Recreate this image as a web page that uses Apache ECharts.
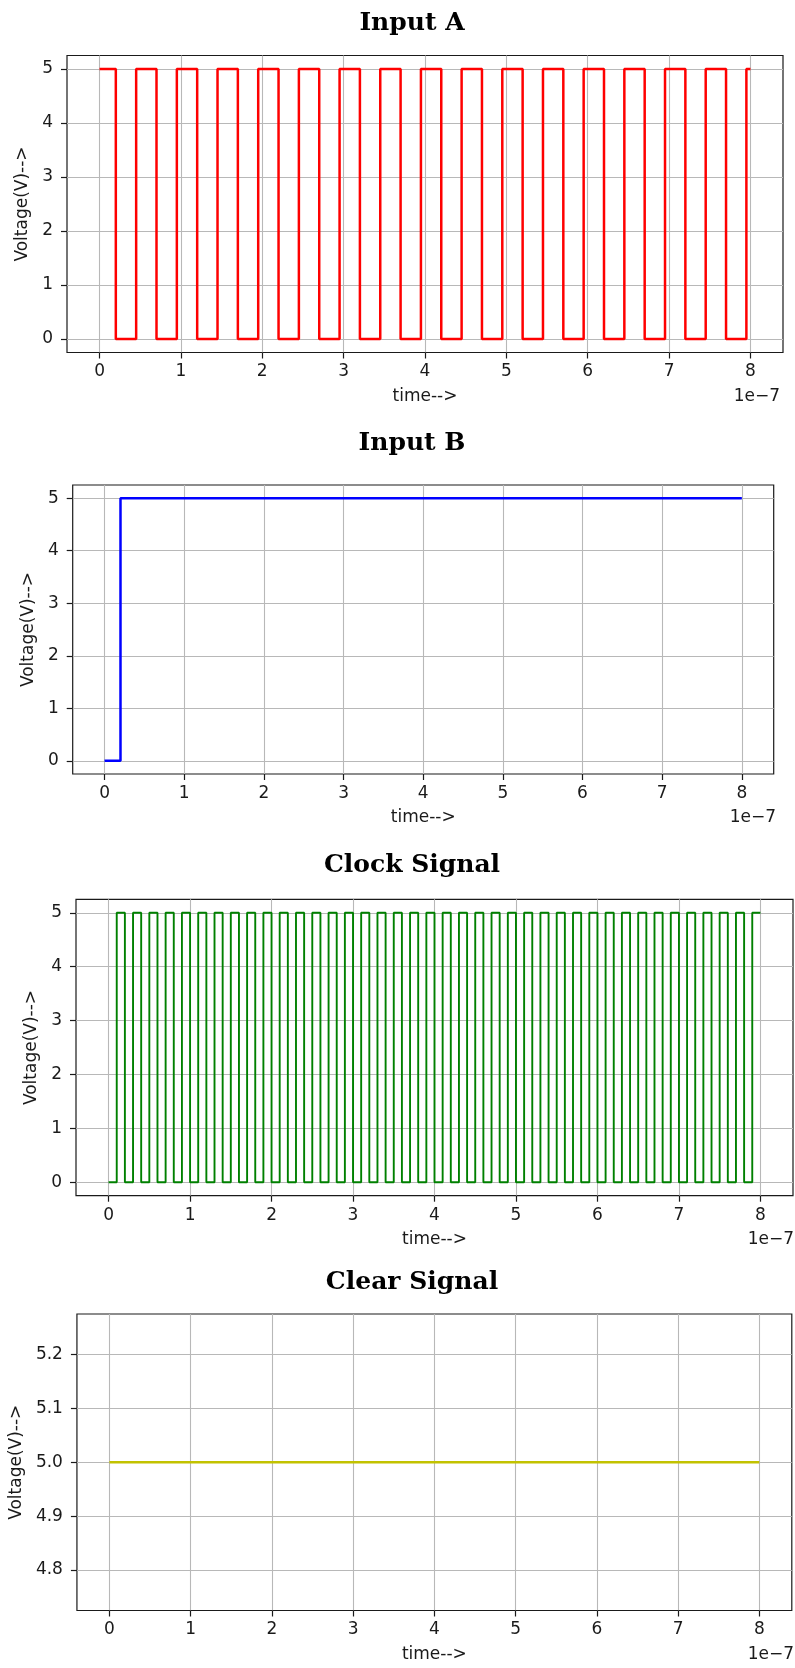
<!DOCTYPE html>
<html>
<head>
<meta charset="utf-8">
<title>Input A / Input B / Clock / Clear</title>
<script src="https://cdn.jsdelivr.net/npm/echarts@6/dist/echarts.min.js"></script>
<style>
  html, body { margin: 0; padding: 0; background: #fff; }
  #chart { width: 795px; height: 1668px; }
</style>
</head>
<body>
<div id="chart"></div>
<script>
// all times are in units of 1e-7 s (the "1e−7" offset under each x axis)
// each point is where the level changes; the level is held until the next point
const inputATime = [0, 0.2, 0.45, 0.7, 0.95, 1.2, 1.45, 1.7, 1.95, 2.2, 2.45, 2.7,
  2.95, 3.2, 3.45, 3.7, 3.95, 4.2, 4.45, 4.7, 4.95, 5.2, 5.45, 5.7, 5.95, 6.2,
  6.45, 6.7, 6.95, 7.2, 7.45, 7.7, 7.95, 8.0]
const inputAVolt = [5, 0, 5, 0, 5, 0, 5, 0, 5, 0, 5, 0,
  5, 0, 5, 0, 5, 0, 5, 0, 5, 0, 5, 0, 5, 0,
  5, 0, 5, 0, 5, 0, 5, 5]

const inputBTime = [0, 0.2, 8.0]
const inputBVolt = [0, 5, 5]

const clockTime = [
  0, 0.1, 0.2, 0.3, 0.4, 0.5, 0.6, 0.7, 0.8, 0.9,
  1.0, 1.1, 1.2, 1.3, 1.4, 1.5, 1.6, 1.7, 1.8, 1.9,
  2.0, 2.1, 2.2, 2.3, 2.4, 2.5, 2.6, 2.7, 2.8, 2.9,
  3.0, 3.1, 3.2, 3.3, 3.4, 3.5, 3.6, 3.7, 3.8, 3.9,
  4.0, 4.1, 4.2, 4.3, 4.4, 4.5, 4.6, 4.7, 4.8, 4.9,
  5.0, 5.1, 5.2, 5.3, 5.4, 5.5, 5.6, 5.7, 5.8, 5.9,
  6.0, 6.1, 6.2, 6.3, 6.4, 6.5, 6.6, 6.7, 6.8, 6.9,
  7.0, 7.1, 7.2, 7.3, 7.4, 7.5, 7.6, 7.7, 7.8, 7.9,
  8.0
]
const clockVolt = [
  0, 5, 0, 5, 0, 5, 0, 5, 0, 5,
  0, 5, 0, 5, 0, 5, 0, 5, 0, 5,
  0, 5, 0, 5, 0, 5, 0, 5, 0, 5,
  0, 5, 0, 5, 0, 5, 0, 5, 0, 5,
  0, 5, 0, 5, 0, 5, 0, 5, 0, 5,
  0, 5, 0, 5, 0, 5, 0, 5, 0, 5,
  0, 5, 0, 5, 0, 5, 0, 5, 0, 5,
  0, 5, 0, 5, 0, 5, 0, 5, 0, 5,
  5
]

const clearTime = [0, 8.0]
const clearVolt = [5, 5]

const timeTicks = [0, 1, 2, 3, 4, 5, 6, 7, 8]
const voltTicks = [0, 1, 2, 3, 4, 5]
const clearTicks = [4.8, 4.9, 5.0, 5.1, 5.2]

const textColor = '#1a1a1a'
const gridColor = '#b8b8b8'

const panels = [
  { title: 'Input A', titleTop: 10.5, left: 67, top: 55.5, width: 716, height: 297,
    yNameGap: 33.5, offsetRight: 15, color: '#ff0000', lineWidth: 2.5,
    time: inputATime, volt: inputAVolt, yMin: -0.25, yMax: 5.25, yStep: 1, yTicks: voltTicks, digits: 0 },
  { title: 'Input B', titleTop: 430.5, left: 72.7, top: 485, width: 701, height: 289,
    yNameGap: 32.5, offsetRight: 19, color: '#0000ff', lineWidth: 2.5,
    time: inputBTime, volt: inputBVolt, yMin: -0.25, yMax: 5.25, yStep: 1, yTicks: voltTicks, digits: 0 },
  { title: 'Clock Signal', titleTop: 852.5, left: 76, top: 899.3, width: 717, height: 296.4,
    yNameGap: 33.5, offsetRight: 1, color: '#008000', lineWidth: 1.9,
    time: clockTime, volt: clockVolt, yMin: -0.25, yMax: 5.25, yStep: 1, yTicks: voltTicks, digits: 0 },
  { title: 'Clear Signal', titleTop: 1269.5, left: 73.3, top: 1314, width: 718.5, height: 296.5,
    yNameGap: 51.5, offsetRight: 1, color: '#c2c200', lineWidth: 2.5,
    time: clearTime, volt: clearVolt, yMin: 4.725, yMax: 5.275, yStep: 0.1, yTicks: clearTicks, digits: 1 }
]

const titles = []
const grids = []
const xAxes = []
const yAxes = []
const series = []

panels.forEach(function (p, i) {
  titles.push({
    text: p.title,
    left: 412,
    top: p.titleTop,
    textAlign: 'center',
    padding: 0,
    textStyle: { fontFamily: 'DejaVu Serif', fontWeight: 'bold', fontSize: 25, color: '#000' }
  })
  titles.push({
    text: '1e\u22127',
    right: p.offsetRight,
    top: p.top + p.height + 35.5,
    padding: 0,
    textStyle: { fontFamily: 'DejaVu Sans', fontWeight: 'normal', fontSize: 17, color: textColor }
  })
  grids.push({
    left: p.left,
    top: p.top,
    width: p.width,
    height: p.height,
    show: true,
    borderColor: '#1a1a1a',
    borderWidth: 1.2,
    backgroundColor: 'transparent'
  })
  xAxes.push({
    type: 'value',
    gridIndex: i,
    min: -0.4,
    max: 8.4,
    minInterval: 1,
    maxInterval: 1,
    name: 'time-->',
    nameLocation: 'middle',
    nameGap: 35.5,
    nameTextStyle: { fontFamily: 'DejaVu Sans', fontSize: 17, color: textColor },
    axisLine: { show: false, onZero: false },
    axisTick: { show: true, length: 6, customValues: timeTicks, lineStyle: { color: textColor, width: 1.2 } },
    axisLabel: {
      customValues: timeTicks,
      margin: 11,
      fontFamily: 'DejaVu Sans',
      fontSize: 17,
      color: textColor
    },
    splitLine: { show: true, lineStyle: { color: gridColor, width: 1.1 } }
  })
  yAxes.push({
    type: 'value',
    gridIndex: i,
    min: p.yMin,
    max: p.yMax,
    minInterval: p.yStep,
    maxInterval: p.yStep,
    name: 'Voltage(V)-->',
    nameLocation: 'middle',
    nameGap: p.yNameGap,
    nameTextStyle: { fontFamily: 'DejaVu Sans', fontSize: 17, color: textColor },
    axisLine: { show: false, onZero: false },
    axisTick: { show: true, length: 6, customValues: p.yTicks, lineStyle: { color: textColor, width: 1.2 } },
    axisLabel: {
      customValues: p.yTicks,
      margin: 14,
      fontFamily: 'DejaVu Sans',
      fontSize: 17,
      color: textColor,
      formatter: function (v) { return v.toFixed(p.digits) }
    },
    splitLine: { show: true, lineStyle: { color: gridColor, width: 1.1 } }
  })
  series.push({
    name: p.title,
    type: 'line',
    xAxisIndex: i,
    yAxisIndex: i,
    step: 'end',
    symbol: 'none',
    showSymbol: false,
    data: p.time.map(function (t, k) { return [t, p.volt[k]] }),
    lineStyle: { color: p.color, width: p.lineWidth },
    itemStyle: { color: p.color }
  })
})

const chart = echarts.init(document.getElementById('chart'), null, { renderer: 'canvas' })
chart.setOption({
  animation: false,
  backgroundColor: '#ffffff',
  title: titles,
  grid: grids,
  xAxis: xAxes,
  yAxis: yAxes,
  series: series
})
</script>
</body>
</html>
